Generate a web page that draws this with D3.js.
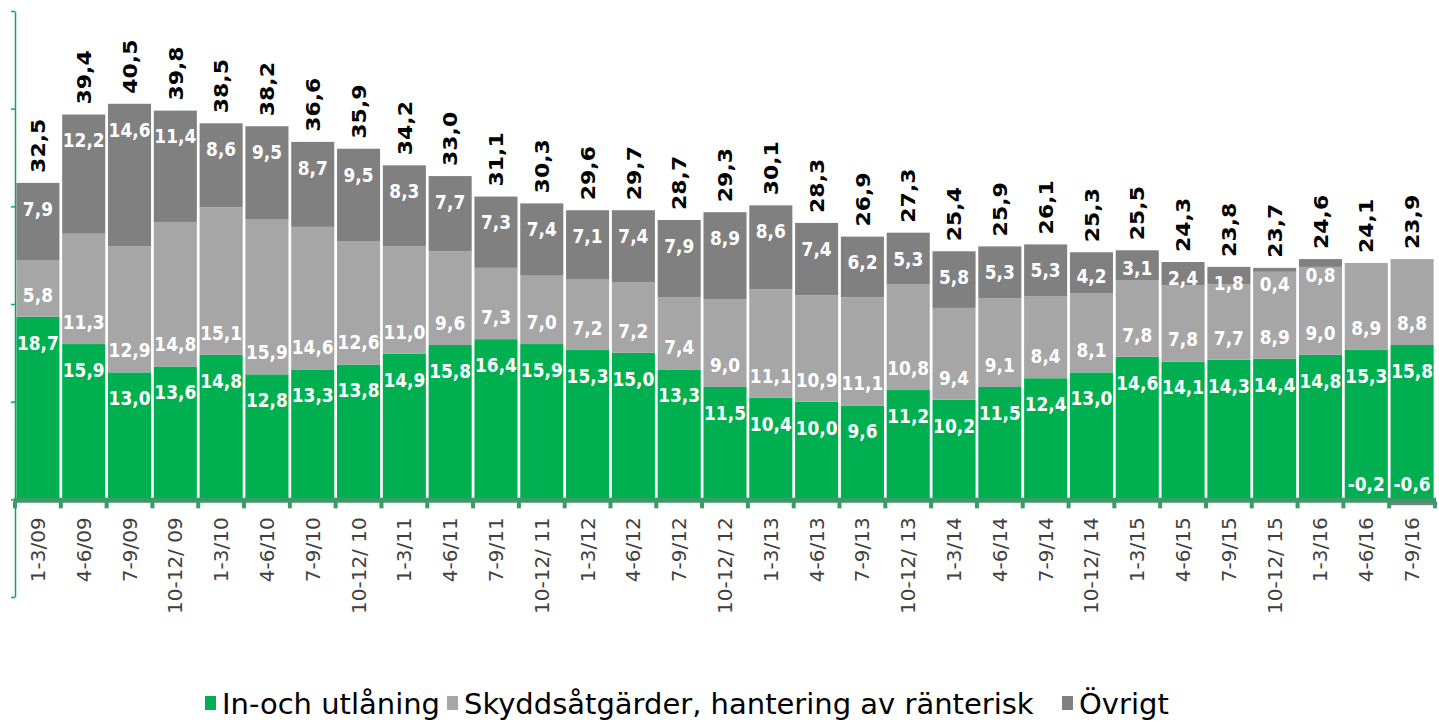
<!DOCTYPE html>
<html>
<head>
<meta charset="utf-8">
<script src="https://cdn.jsdelivr.net/npm/d3@7"></script>
<style>
  body { margin: 0; background: #fff; }
  svg { display: block; font-family: "DejaVu Sans", Verdana, sans-serif; }
</style>
</head>
<body>
<svg id="chart" width="1439" height="722"></svg>
<script>
var categories = ["1-3/09", "4-6/09", "7-9/09", "10-12/ 09", "1-3/10", "4-6/10", "7-9/10", "10-12/ 10",
  "1-3/11", "4-6/11", "7-9/11", "10-12/ 11", "1-3/12", "4-6/12", "7-9/12", "10-12/ 12",
  "1-3/13", "4-6/13", "7-9/13", "10-12/ 13", "1-3/14", "4-6/14", "7-9/14", "10-12/ 14",
  "1-3/15", "4-6/15", "7-9/15", "10-12/ 15", "1-3/16", "4-6/16", "7-9/16"];
var inOchUtlaning = [18.7, 15.9, 13.0, 13.6, 14.8, 12.8, 13.3, 13.8, 14.9, 15.8, 16.4, 15.9, 15.3, 15.0, 13.3,
  11.5, 10.4, 10.0, 9.6, 11.2, 10.2, 11.5, 12.4, 13.0, 14.6, 14.1, 14.3, 14.4, 14.8, 15.3, 15.8];
var skyddsatgarder = [5.8, 11.3, 12.9, 14.8, 15.1, 15.9, 14.6, 12.6, 11.0, 9.6, 7.3, 7.0, 7.2, 7.2, 7.4,
  9.0, 11.1, 10.9, 11.1, 10.8, 9.4, 9.1, 8.4, 8.1, 7.8, 7.8, 7.7, 8.9, 9.0, 8.9, 8.8];
var ovrigt = [7.9, 12.2, 14.6, 11.4, 8.6, 9.5, 8.7, 9.5, 8.3, 7.7, 7.3, 7.4, 7.1, 7.4, 7.9,
  8.9, 8.6, 7.4, 6.2, 5.3, 5.8, 5.3, 5.3, 4.2, 3.1, 2.4, 1.8, 0.4, 0.8, -0.2, -0.6];
var totals = [32.5, 39.4, 40.5, 39.8, 38.5, 38.2, 36.6, 35.9, 34.2, 33.0, 31.1, 30.3, 29.6, 29.7, 28.7,
  29.3, 30.1, 28.3, 26.9, 27.3, 25.4, 25.9, 26.1, 25.3, 25.5, 24.3, 23.8, 23.7, 24.6, 24.1, 23.9];
var seriesNames = ["In-och utlåning", "Skyddsåtgärder, hantering av ränterisk", "Övrigt"];
var colors = ["#00b050", "#a6a6a6", "#808080"];

var svg = d3.select("#chart");
var fmt = function(v) { return d3.format(".1f")(v).replace(".", ",").replace("−", "-"); };

var rows = categories.map(function(c, i) {
  return { cat: c, s0: inOchUtlaning[i], s1: skyddsatgarder[i], s2: ovrigt[i], total: totals[i] };
});
var stack = d3.stack().keys(["s0", "s1", "s2"]).offset(d3.stackOffsetDiverging);
var layers = stack(rows);

var x = d3.scaleBand().domain(categories).range([15, 1435]).paddingInner(0.06).paddingOuter(0.03);
var y = d3.scaleLinear().domain([-10, 50]).range([597, 11]);
var cx = d => x(d) + x.bandwidth() / 2;

// left axis (no labels)
svg.append("g")
    .attr("transform", "translate(15,0)")
    .call(d3.axisLeft(y).tickValues(d3.range(-10, 51, 10)).tickSize(4).tickSizeOuter(0).tickFormat(""))
    .call(g => g.selectAll("path, line").attr("stroke", "#00b050").attr("stroke-width", 1.5));

// bars
svg.append("g").selectAll("g")
  .data(layers)
  .join("g")
    .attr("fill", (d, i) => colors[i])
  .selectAll("rect")
  .data(d => d)
  .join("rect")
    .attr("x", d => x(d.data.cat))
    .attr("width", x.bandwidth())
    .attr("y", d => y(Math.max(d[0], d[1])))
    .attr("height", d => Math.abs(y(d[0]) - y(d[1])));

// x axis line with boundary ticks
var gap = x.step() * x.paddingInner();
var edges = categories.map(c => x(c) - gap / 2)
  .concat([x(categories[categories.length - 1]) + x.bandwidth() + gap / 2]);
var xAxis = svg.append("g").attr("class", "x-axis");
xAxis.append("line")
    .attr("x1", 14).attr("x2", 1436)
    .attr("y1", y(0) + 1).attr("y2", y(0) + 1)
    .attr("stroke", "#3a9a6a").attr("stroke-width", 5);
xAxis.selectAll(".tick")
  .data(edges)
  .join("rect")
    .attr("class", "tick")
    .attr("x", d => d - 2)
    .attr("y", y(0) + 2)
    .attr("width", 4)
    .attr("height", 7)
    .attr("fill", "#3a9a6a");

// category labels
svg.append("g").selectAll("text")
  .data(categories)
  .join("text")
    .attr("transform", d => "translate(" + cx(d) + "," + (y(0) + 18) + ") rotate(-90)")
    .attr("text-anchor", "end")
    .attr("dy", "0.35em")
    .attr("font-size", 20)
    .attr("fill", "#404040")
    .text(d => d);

// data labels inside segments
var labelG = svg.append("g")
    .attr("font-size", 17)
    .attr("font-weight", "bold")
    .attr("fill", "#fff")
    .attr("text-anchor", "middle");

function labelY(layerIndex, d, value) {
  var top = y(Math.max(d[0], d[1])), bottom = y(Math.min(d[0], d[1]));
  var h = bottom - top;
  if (value < 0) return y(0) - 15;
  if (layerIndex === 0) return top + 26;
  if (layerIndex === 1) return bottom - 22;
  return top + Math.max(16, Math.min(26, h / 2 + 3));
}

layers.forEach(function(layer, li) {
  labelG.selectAll(".lbl" + li)
    .data(layer)
    .join("text")
      .attr("class", "lbl" + li)
      .attr("transform", d => "translate(" + cx(d.data.cat) + "," + labelY(li, d, d.data[layer.key]) + ") scale(1,1.12)")
      .attr("dy", "0.36em")
      .text(d => fmt(d.data[layer.key]));
});

// totals above the bars
svg.append("g").selectAll("text")
  .data(rows)
  .join("text")
    .attr("transform", (d, i) => {
      var top = d3.max(layers, l => l[i][1]);
      return "translate(" + cx(d.cat) + "," + (y(top) - 10) + ") scale(1,1.1) rotate(-90)";
    })
    .attr("dy", "0.36em")
    .attr("font-size", 20)
    .attr("font-weight", "bold")
    .attr("fill", "#000")
    .text(d => fmt(d.total));

// legend
var legend = svg.append("g").attr("transform", "translate(205,714)");
var legendX = [0, 242, 857];
seriesNames.forEach(function(name, i) {
  var item = legend.append("g").attr("transform", "translate(" + legendX[i] + ",0)");
  item.append("rect")
    .attr("x", 0).attr("y", -18)
    .attr("width", 11).attr("height", 14)
    .attr("fill", colors[i]);
  item.append("text")
    .attr("x", 17)
    .attr("font-size", 29)
    .attr("fill", "#000")
    .text(name);
});
</script>
</body>
</html>
